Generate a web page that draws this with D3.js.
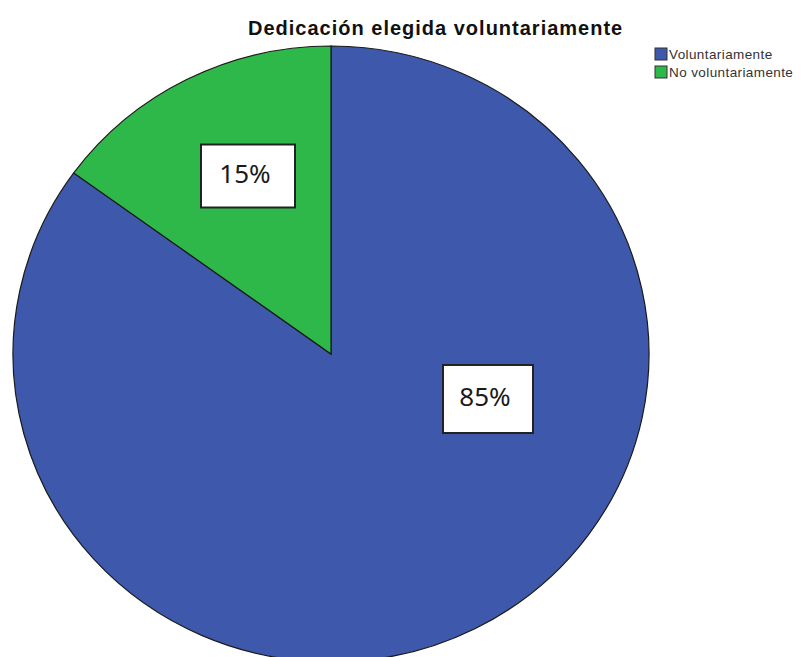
<!DOCTYPE html>
<html>
<head>
<meta charset="utf-8">
<script src="https://cdn.jsdelivr.net/npm/d3@7"></script>
<style>
  html, body { margin: 0; padding: 0; background: #fff; }
  svg { display: block; }
</style>
</head>
<body>
<div id="chart"></div>
<script>
  'use strict';

  // Data
  const categories = ['Voluntariamente', 'No voluntariamente'];
  const percents = [85, 15];
  const labels = ['85%', '15%'];
  const colors = ['#3E58AB', '#2EB84A'];
  const title = 'Dedicación elegida voluntariamente';

  const width = 801;
  const height = 657;

  // Layout (pie is drawn slightly squashed vertically, like the source)
  const cx = 331, cy = 354;
  const rx = 318, ry = 308;
  // label box centre offsets from pie centre, plus box size
  const labelLayout = [
    { dx: 157, dy: 45, w: 90, h: 68 },
    { dx: -83, dy: -178, w: 94, h: 63 }
  ];

  const svg = d3.select('#chart').append('svg')
    .attr('width', width)
    .attr('height', height);

  svg.append('text')
    .attr('x', 248)
    .attr('y', 35)
    .attr('font-family', '"Liberation Sans", Arial, sans-serif')
    .attr('font-weight', 'bold')
    .attr('font-size', '20px')
    .attr('letter-spacing', '1px')
    .attr('fill', '#111')
    .text(title);

  const data = categories.map((c, i) => ({ name: c, value: percents[i], label: labels[i], color: colors[i], i }));

  const pie = d3.pie()
    .sort(null)
    .value(d => d.value);

  const arc = d3.arc()
    .innerRadius(0)
    .outerRadius(rx);

  const g = svg.append('g')
    .attr('transform', `translate(${cx},${cy}) scale(1,${ry / rx})`);

  g.selectAll('path')
    .data(pie(data))
    .join('path')
    .attr('d', arc)
    .attr('fill', d => d.data.color)
    .attr('stroke', '#1a1a1a')
    .attr('stroke-width', 1.2)
    .attr('vector-effect', 'non-scaling-stroke');

  // Value labels in boxes
  const lab = svg.append('g').attr('class', 'labels');
  data.forEach((d, i) => {
    const L = labelLayout[i];
    const bx = cx + L.dx, by = cy + L.dy;
    lab.append('rect')
      .attr('x', bx - L.w / 2)
      .attr('y', by - L.h / 2)
      .attr('width', L.w)
      .attr('height', L.h)
      .attr('fill', '#fff')
      .attr('stroke', '#222')
      .attr('stroke-width', 2);
    lab.append('text')
      .attr('x', bx - 3)
      .attr('y', by + 6.5)
      .attr('text-anchor', 'middle')
      .attr('font-family', '"Noto Sans", "Open Sans", sans-serif')
      .attr('font-size', '26px')
      .attr('fill', '#1a1a1a')
      .text(d.label);
  });

  // Legend
  const legend = svg.append('g')
    .attr('transform', 'translate(655,48)');

  const item = legend.selectAll('g')
    .data(data)
    .join('g')
    .attr('transform', (d, i) => `translate(0,${i * 18})`);

  item.append('rect')
    .attr('width', 12)
    .attr('height', 12)
    .attr('fill', d => d.color)
    .attr('stroke', '#333')
    .attr('stroke-width', 1);

  item.append('text')
    .attr('x', 14)
    .attr('y', 11)
    .attr('font-family', '"Liberation Sans", Arial, sans-serif')
    .attr('font-size', '13.5px')
    .attr('letter-spacing', '0.4px')
    .attr('fill', '#333')
    .text(d => d.name);
</script>
</body>
</html>
